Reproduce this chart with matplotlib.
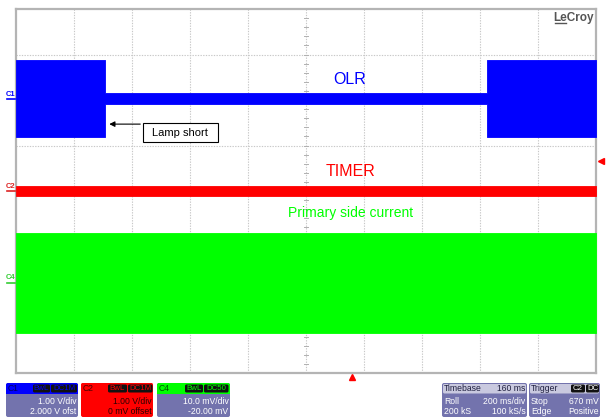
import matplotlib
matplotlib.use('Agg')
import matplotlib.pyplot as plt
from matplotlib.patches import Rectangle, FancyBboxPatch
from matplotlib import font_manager as fm

# ---------------- data (time in ms, amplitude in screen divisions) -------------
c1_time = [0, 307, 307, 1624, 1624, 2000]
c1_top = [2.88, 2.88, 2.15, 2.15, 2.87, 2.87]
c1_bot = [1.19, 1.19, 1.91, 1.91, 1.19, 1.19]

c2_time = [0, 2000]
c2_top = [0.11, 0.11]
c2_bot = [-0.11, -0.11]

c4_time = [0, 2000]
c4_top = [-0.92, -0.92]
c4_bot = [-3.12, -3.12]

trace_names = ["OLR", "TIMER", "Primary side current"]
annotation_text = "Lamp short"
annotation_time = 307

c1_info = ["1.00 V/div", "2.000 V ofst"]
c2_info = ["1.00 V/div", "0 mV offset"]
c4_info = ["10.0 mV/div", "-20.00 mV"]
timebase_info = [("Timebase", "160 ms"), ("Roll", "200 ms/div"), ("200 kS", "100 kS/s")]
trigger_info = [("Trigger", ""), ("Stop", "670 mV"), ("Edge", "Positive")]

BLUE = '#0000ff'
RED = '#ff0000'
GREEN = '#00ff00'
LAV = '#7373ad'
LAV_LIGHT = '#c9c9df'

names = {f.name for f in fm.fontManager.ttflist}
SMALL_FONT = 'Liberation Sans Narrow' if 'Liberation Sans Narrow' in names else 'Liberation Sans'
SMALL_SIZE = 7 if SMALL_FONT == 'Liberation Sans Narrow' else 6.2
plt.rcParams['font.family'] = ['Liberation Sans', 'DejaVu Sans']

W, H = 610, 418
fig = plt.figure(figsize=(W / 100, H / 100), dpi=100)
fig.patch.set_facecolor('white')

# plot area in pixels
L, R, T, B = 16, 596, 9, 373
ax = fig.add_axes([L / W, (H - B) / H, (R - L) / W, (B - T) / H])
ax.set_xlim(0, 2000)
ax.set_ylim(-4, 4)
ax.set_xticks([])
ax.set_yticks([])
for s in ax.spines.values():
    s.set_color('#b4b4b4')
    s.set_linewidth(1.6)

# grid
for i in range(1, 10):
    ax.axvline(i * 200, color='#c8c8c8', lw=0.8, ls=(0, (1.2, 1.2)), zorder=1)
for j in range(-3, 4):
    ax.axhline(j, color='#c8c8c8', lw=0.8, ls=(0, (1.2, 1.2)), zorder=1)
# centre crosshair ticks
for k in range(-20, 21):
    y = k * 0.2
    ax.plot([1000 - 8, 1000 + 8], [y, y], color='#b0b0b0', lw=0.7, zorder=1)
for k in range(0, 51):
    x = k * 40
    ax.plot([x, x], [-0.055, 0.055], color='#b0b0b0', lw=0.7, zorder=1)

# traces
ax.fill_between(c1_time, c1_bot, c1_top, color=BLUE, lw=0.6, ec=BLUE, zorder=3)
ax.fill_between(c2_time, c2_bot, c2_top, color=RED, lw=0.6, ec=RED, zorder=3)
ax.fill_between(c4_time, c4_bot, c4_top, color=GREEN, lw=0.6, ec=GREEN, zorder=3)

# trace labels
ax.text(1152, 2.46, trace_names[0], color=BLUE, fontsize=11.5, ha='center', va='center', zorder=5)
ax.text(1152, 0.42, trace_names[1], color=RED, fontsize=11.5, ha='center', va='center', zorder=5)
ax.text(1152, -0.48, trace_names[2], color=GREEN, fontsize=10, ha='center', va='center', zorder=5)

# annotation box + arrow
ax.add_patch(Rectangle((438, 1.08), 259, 0.42, fill=True, fc='white', ec='black', lw=0.8, zorder=5))
ax.text(567, 1.285, annotation_text, fontsize=8, ha='center', va='center', zorder=6)
ax.annotate('', xy=(annotation_time + 5, 1.47), xytext=(438, 1.47),
            arrowprops=dict(arrowstyle='-|>', color='black', lw=0.8, mutation_scale=8), zorder=6)

# ---------------- overlay (pixel coordinates) ----------------
ov = fig.add_axes([0, 0, 1, 1])
ov.set_xlim(0, W)
ov.set_ylim(H, 0)
ov.axis('off')

# LeCroy logo
ov.text(594, 20.5, 'LeCroy', color='#555555', fontsize=8.5, ha='right', va='baseline', fontweight='bold')
ov.plot([555, 566], [22.5, 22.5], color='#555555', lw=1.0)

# channel markers on the left
ov.text(11, 94, 'C1', color=BLUE, fontsize=5.5, fontweight='bold', ha='center', va='center', rotation=0)
ov.plot([7, 15], [99, 99], color=BLUE, lw=1.2)
ov.text(11, 186, 'C2', color='#dd2222', fontsize=5.5, fontweight='bold', ha='center', va='center', rotation=0)
ov.plot([7, 15], [191, 191], color='#dd2222', lw=1.2)
ov.text(11, 277.5, 'C4', color='#33cc33', fontsize=5.5, fontweight='bold', ha='center', va='center', rotation=0)
ov.plot([7, 15], [283, 283], color='#33cc33', lw=1.2)

# trigger markers
ov.plot([601], [161], marker='<', color=RED, markersize=4.5, mec=RED)
ov.plot([352], [377], marker='^', color=RED, markersize=4.5, mec=RED)


def rbox(x0, y0, x1, y1, color, r=2.0, z=2):
    ov.add_patch(FancyBboxPatch((x0, y0), x1 - x0, y1 - y0,
                                boxstyle=f"round,pad=0,rounding_size={r}",
                                fc=color, ec='none', zorder=z))


def badge(x0, x1, y0, y1, text, tcolor):
    rbox(x0, y0, x1, y1, '#111111', r=1.5, z=4)
    ov.text((x0 + x1) / 2, (y0 + y1) / 2 + 0.3, text, color=tcolor, fontsize=SMALL_SIZE - 0.5,
            family=SMALL_FONT, ha='center', va='center', zorder=5)


def chan_box(x0, x1, head_col, body_col, label, label_col, badges, rows, text_col):
    y0, yh, y1 = 383, 393.5, 417
    rbox(x0, y0, x1, y1, body_col)
    rbox(x0, y0, x1, yh, head_col, z=3)
    ov.add_patch(Rectangle((x0, yh - 3), x1 - x0, 3, fc=head_col, ec='none', zorder=3))
    ov.text(x0 + 2, 388.5, label, color=label_col, fontsize=SMALL_SIZE, family=SMALL_FONT,
            ha='left', va='center', zorder=5)
    for (bx0, bx1, bt, bc) in badges:
        badge(bx0, bx1, 384.5, 392.5, bt, bc)
    ov.text(x1 - 1.5, 402, rows[0], color=text_col, fontsize=SMALL_SIZE, family=SMALL_FONT,
            ha='right', va='center', zorder=5)
    ov.text(x1 - 1.5, 412, rows[1], color=text_col, fontsize=SMALL_SIZE, family=SMALL_FONT,
            ha='right', va='center', zorder=5)


chan_box(6, 78, BLUE, LAV, 'C1', '#000060',
         [(33, 50, 'BwL', BLUE), (51, 77, 'DC1M', BLUE)], c1_info, 'white')
chan_box(81, 153, RED, RED, 'C2', '#500000',
         [(108, 127, 'BwL', RED), (128, 152.5, 'DC1M', RED)], c2_info, '#2a0000')
chan_box(157, 230, GREEN, LAV, 'C4', '#005000',
         [(185, 203, 'BwL', GREEN), (204, 228.5, 'DC50', GREEN)], c4_info, 'white')


def info_box(x0, x1, rows, badges=()):
    y0, yh, y1 = 383, 393.5, 417
    rbox(x0, y0, x1, y1, LAV)
    rbox(x0 + 1, y0 + 1, x1 - 1, yh, LAV_LIGHT, r=1.5, z=3)
    ys = [388.5, 402, 412]
    for i, (l, r) in enumerate(rows):
        col = '#202040' if i == 0 else 'white'
        ov.text(x0 + 2, ys[i], l, color=col, fontsize=SMALL_SIZE, family=SMALL_FONT,
                ha='left', va='center', zorder=5)
        if r:
            ov.text(x1 - 1.5, ys[i], r, color=col, fontsize=SMALL_SIZE, family=SMALL_FONT,
                    ha='right', va='center', zorder=5)
    for (bx0, bx1, bt, bc) in badges:
        badge(bx0, bx1, 384.5, 392.5, bt, bc)


info_box(442, 527, timebase_info)
info_box(529, 600, trigger_info, badges=[(571, 585, 'C2', 'white'), (586, 599, 'DC', 'white')])

fig.savefig('out.png', dpi=100, facecolor='white')
